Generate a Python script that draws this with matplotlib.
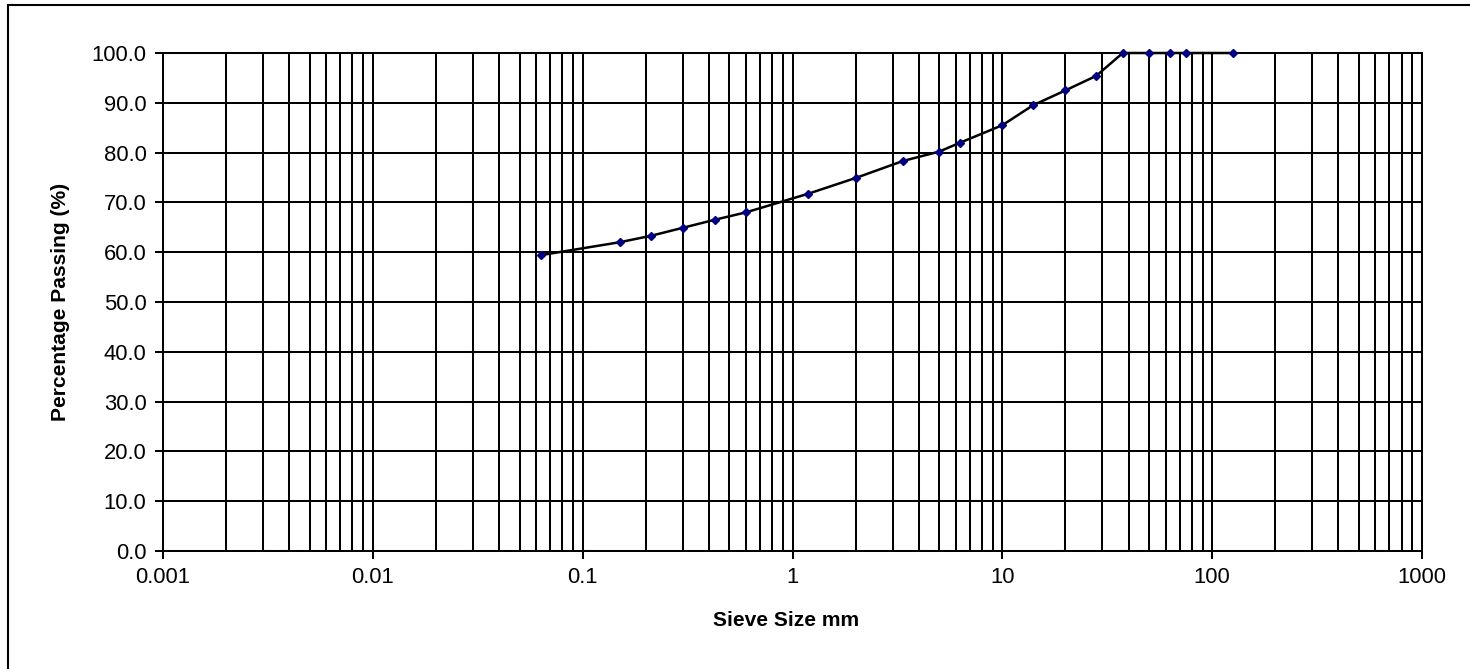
import matplotlib
matplotlib.use("Agg")
import matplotlib.pyplot as plt
from matplotlib.ticker import LogLocator, FixedLocator, NullFormatter, FuncFormatter
import matplotlib.patches as patches

plt.rcParams['font.family'] = ['Liberation Sans', 'DejaVu Sans']

sieve_mm = [0.063, 0.15, 0.212, 0.3, 0.425, 0.6, 1.18, 2.0, 3.35, 5.0, 6.3,
            10.0, 14.0, 20.0, 28.0, 37.5, 50.0, 63.0, 75.0, 125.0]
passing = [59.4, 62.0, 63.3, 64.9, 66.5, 68.0, 71.7, 74.9, 78.3, 80.2, 82.0,
           85.5, 89.5, 92.5, 95.4, 100.0, 100.0, 100.0, 100.0, 100.0]
x_ticks = [0.001, 0.01, 0.1, 1, 10, 100, 1000]
x_tick_labels = ["0.001", "0.01", "0.1", "1", "10", "100", "1000"]
y_ticks = [0, 10, 20, 30, 40, 50, 60, 70, 80, 90, 100]

W, H = 1470, 669
fig = plt.figure(figsize=(W / 100, H / 100), dpi=100)
ax = fig.add_axes([163 / W, 1 - 551 / H, (1422 - 163) / W, (551 - 53) / H])

ax.set_xscale('log')
ax.set_xlim(0.001, 1000)
ax.set_ylim(0, 100)

ax.xaxis.set_major_locator(FixedLocator(x_ticks))
ax.set_xticklabels(x_tick_labels)
ax.xaxis.set_minor_locator(LogLocator(base=10, subs=range(2, 10), numticks=100))
ax.xaxis.set_minor_formatter(NullFormatter())
ax.set_yticks(y_ticks)
ax.yaxis.set_major_formatter(FuncFormatter(lambda v, p: f"{v:.1f}"))

ax.grid(True, which='major', axis='both', color='black', linewidth=1.45)
ax.grid(True, which='minor', axis='x', color='black', linewidth=1.45)
ax.set_axisbelow(True)

ax.tick_params(axis='both', which='major', direction='out', length=5.8, width=1.45,
               color='black', labelsize=15.8)
ax.tick_params(axis='y', which='major', pad=6)
ax.tick_params(axis='x', which='major', pad=6)
ax.tick_params(axis='x', which='minor', length=0)
ax.tick_params(axis='y', which='minor', length=0)

for s in ['left', 'bottom', 'top', 'right']:
    ax.spines[s].set_linewidth(1.45)
    ax.spines[s].set_color('black')

ax.plot(sieve_mm, passing, color='black', linewidth=1.8, marker='D',
        markersize=4.2, markerfacecolor='#000080', markeredgecolor='#000080',
        clip_on=False, zorder=5)

fig.text(786 / W, 1 - 621 / H, "Sieve Size mm", ha='center', va='center',
         fontsize=15.1, fontweight='bold')
fig.text(61 / W, 1 - 301.5 / H, "Percentage Passing (%)", ha='center', va='center',
         rotation=90, fontsize=15.1, fontweight='bold')

frame = patches.Rectangle((8 / W, -0.1), 1.2, 1.1 - 5 / H, transform=fig.transFigure,
                          fill=False, edgecolor='black', linewidth=1.5)
fig.add_artist(frame)

fig.savefig("out.png", dpi=100)
